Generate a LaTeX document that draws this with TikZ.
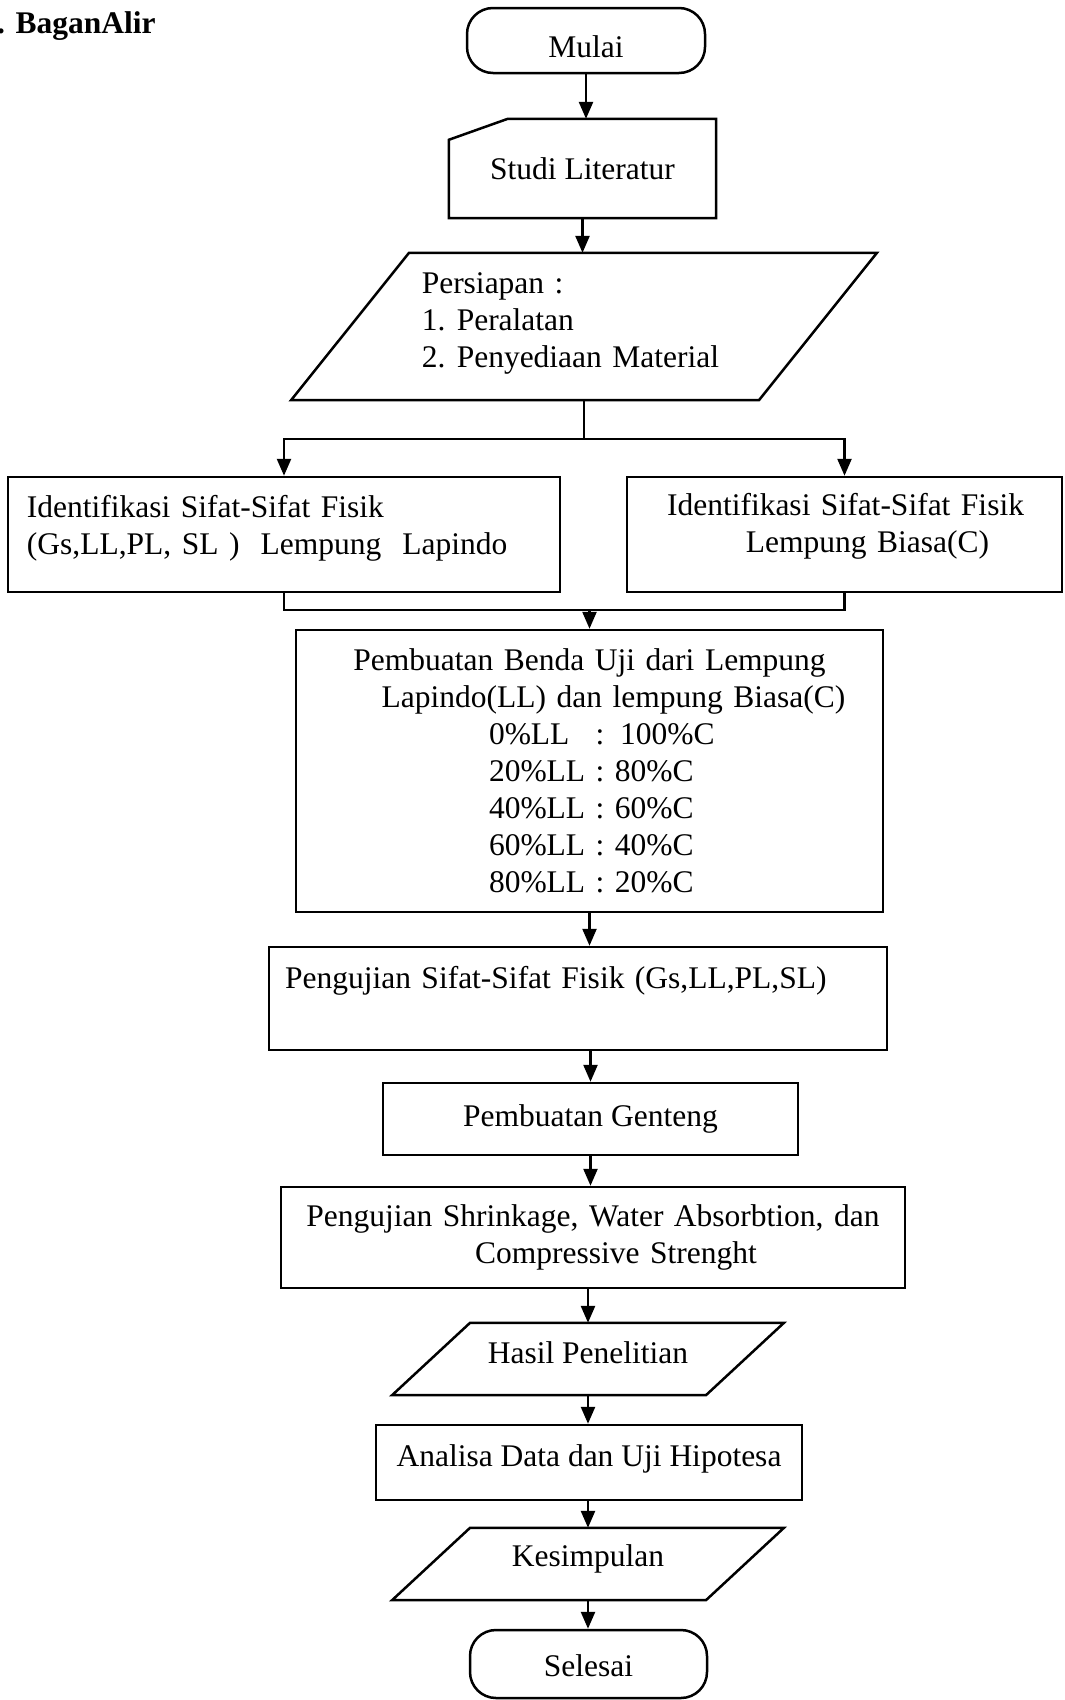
\documentclass[tikz,border=0pt]{standalone}
\usepackage{fontspec}
\setmainfont{Liberation Serif}
\usetikzlibrary{arrows.meta,calc}
\tikzset{
  lw/.style={line width=2.5pt},
  txtfont/.style={font=\fontsize{31.5}{37}\selectfont},
  fbox/.style={draw, lw, rectangle, inner sep=0pt, txtfont},
  plain/.style={inner sep=0pt, txtfont},
  term/.style={fbox, rounded corners=26pt},
  conn/.style={lw},
  arr/.style={lw, -{Triangle[length=17pt,width=14pt]}},
}
\begin{document}
\begin{tikzpicture}[x=1pt,y=-1pt]
\useasboundingbox (0,0) rectangle (1065,1700);

% title
\node[plain, font=\bfseries\fontsize{31.5}{37}\selectfont, anchor=base west] (title) at (-3,33) {. BaganAlir};

% nodes
\node[term, minimum width=238pt, minimum height=65pt, text height=35pt] (mulai) at (586,40.5) {Mulai};

\node[plain, minimum width=267pt, minimum height=99pt] (studi) at (582.5,168.5) {Studi Literatur};

\node[plain, minimum width=467.5pt, minimum height=147pt, inner xsep=71.5pt,
      text width=324.5pt, align=left, text height=21.5pt, text depth=88.5pt] (pers) at (584,326.5)
  {Persiapan :\\
   \makebox[35pt][l]{1.}Peralatan\\
   \makebox[35pt][l]{2.}Penyediaan Material};

\node[fbox, minimum width=552pt, minimum height=115pt, inner xsep=19pt,
      text width=514pt, align=left, text height=21.5pt, text depth=56.5pt] (idl) at (284,534.5)
  {Identifikasi Sifat-Sifat Fisik\\
   (Gs,LL,PL, SL )\ \ Lempung\ \ Lapindo};

\node[fbox, minimum width=435pt, minimum height=115pt,
      text width=435pt, align=left, text height=21.5pt, text depth=60.5pt] (idr) at (844.5,534.5)
  {\makebox[435pt][c]{\hspace*{2pt}Identifikasi Sifat-Sifat Fisik}\\
   \makebox[435pt][c]{\hspace*{46pt}Lempung Biasa(C)}};

\node[fbox, minimum width=587pt, minimum height=282pt,
      text width=587pt, align=left] (pemb) at (589.5,771)
  {\makebox[587pt][c]{Pembuatan Benda Uji dari Lempung}\\
   \makebox[587pt][c]{\hspace*{48pt}Lapindo(LL) dan lempung Biasa(C)}\\
   \hspace*{193pt}0\%LL\phantom{0} : 100\%C\\
   \hspace*{193pt}20\%LL : 80\%C\\
   \hspace*{193pt}40\%LL : 60\%C\\
   \hspace*{193pt}60\%LL : 40\%C\\
   \hspace*{193pt}80\%LL : 20\%C};

\node[fbox, minimum width=618pt, minimum height=103pt, inner xsep=16pt,
      text width=586pt, align=left, text height=41pt, text depth=62pt] (psf) at (578,998.5)
  {Pengujian Sifat-Sifat Fisik (Gs,LL,PL,SL)};

\node[fbox, minimum width=415pt, minimum height=72pt] (gent) at (590.5,1119)
  {Pembuatan Genteng};

\node[fbox, minimum width=624pt, minimum height=101pt,
      text width=624pt, align=left] (shr) at (593,1237.5)
  {\makebox[624pt][c]{Pengujian Shrinkage, Water Absorbtion, dan}\\
   \makebox[624pt][c]{\hspace*{46pt}Compressive Strenght}};

\node[plain, minimum width=313.5pt, minimum height=72pt, text depth=13pt] (hasil) at (588,1359)
  {Hasil Penelitian};

\node[fbox, minimum width=426pt, minimum height=75pt, text height=15.5pt] (anal) at (589,1462.5)
  {Analisa Data dan Uji Hipotesa};

\node[plain, minimum width=313.5pt, minimum height=72pt, text height=12.5pt] (kes) at (588,1564)
  {Kesimpulan};

\node[term, minimum width=237pt, minimum height=68pt, text height=26pt] (sel) at (588.5,1664)
  {Selesai};

% special outlines
\draw[lw] ([xshift=59pt]studi.north west) -- (studi.north east) -- (studi.south east)
  -- (studi.south west) -- ([yshift=-21pt]studi.north west) -- cycle;
\draw[lw] ([xshift=59pt]pers.north west) -- ([xshift=59pt]pers.north east)
  -- ([xshift=-59pt]pers.south east) -- ([xshift=-59pt]pers.south west) -- cycle;
\draw[lw] ([xshift=39pt]hasil.north west) -- ([xshift=39pt]hasil.north east)
  -- ([xshift=-39pt]hasil.south east) -- ([xshift=-39pt]hasil.south west) -- cycle;
\draw[lw] ([xshift=39pt]kes.north west) -- ([xshift=39pt]kes.north east)
  -- ([xshift=-39pt]kes.south east) -- ([xshift=-39pt]kes.south west) -- cycle;

% connectors
\coordinate (split) at ([yshift=-39pt]pers.south);
\coordinate (join) at ([yshift=19pt]pemb.north);

\draw[arr] (mulai.south) -- (mulai.south |- studi.north);
\draw[arr] (studi.south) -- (studi.south |- pers.north);
\draw[conn] (pers.south) -- (split);
\draw[arr] (split) -| (idl.north);
\draw[arr] (split) -| (idr.north);
\draw[conn] (idl.south) |- (join);
\draw[conn] (idr.south) |- (join);
\draw[arr] (join) -- (pemb.north);
\draw[arr] (pemb.south) -- (pemb.south |- psf.north);
\draw[arr] (gent.north |- psf.south) -- (gent.north);
\draw[arr] (gent.south) -- (gent.south |- shr.north);
\draw[arr] (hasil.north |- shr.south) -- (hasil.north);
\draw[arr] (hasil.south) -- (hasil.south |- anal.north);
\draw[arr] (kes.north |- anal.south) -- (kes.north);
\draw[arr] (kes.south) -- (kes.south |- sel.north);
\end{tikzpicture}
\end{document}
